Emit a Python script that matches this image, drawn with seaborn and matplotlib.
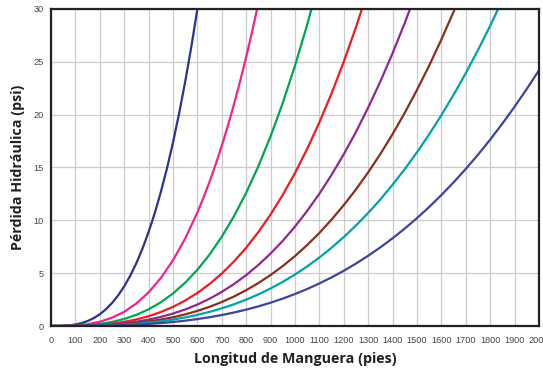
import matplotlib
matplotlib.use("Agg")
import matplotlib.pyplot as plt
import seaborn as sns
import pandas as pd

# Hose length (ft) and friction loss (psi), one pair of lists per curve
x_1 = [0, 25, 50, 75, 100, 125, 150, 175, 200, 225, 250, 275, 300, 325, 350, 375, 400,
       425, 450, 475, 500, 525, 550, 575, 600, 625]
serie_1 = [0, 0.002, 0.02, 0.059, 0.14, 0.271, 0.47, 0.744, 1.11, 1.582, 2.17, 2.889, 3.75,
           4.768, 5.95, 7.324, 8.89, 10.66, 12.66, 14.88, 17.36, 20.10, 23.11, 26.40, 30.0, 33.91]

x_2 = [0, 50, 100, 150, 200, 250, 300, 350, 400, 450, 500, 550, 600, 625, 650, 675, 700,
       725, 750, 775, 800, 825, 850, 875]
serie_2 = [0, 0.006, 0.05, 0.17, 0.40, 0.78, 1.34, 2.13, 3.18, 4.53, 6.22, 8.27, 10.74,
           12.14, 13.65, 15.29, 17.05, 18.95, 20.98, 23.14, 25.46, 27.92, 30.53, 33.31]

x_3 = list(range(0, 1101, 50))
serie_3 = [0, 0.003, 0.025, 0.083, 0.197, 0.385, 0.665, 1.056, 1.576, 2.244, 3.078, 4.097,
           5.319, 6.763, 8.447, 10.39, 12.61, 15.12, 17.95, 21.11, 24.63, 28.51, 32.78]

x_4 = list(range(0, 1301, 50))
serie_4 = [0, 0.002, 0.014, 0.049, 0.116, 0.226, 0.391, 0.621, 0.926, 1.319, 1.809, 2.408,
           3.126, 3.975, 4.965, 6.106, 7.411, 8.889, 10.55, 12.41, 14.47, 16.76, 19.27,
           22.01, 25.01, 28.27, 31.80]

x_5 = list(range(0, 1501, 50))
serie_5 = [0, 0.001, 0.009, 0.032, 0.075, 0.147, 0.254, 0.403, 0.602, 0.857, 1.176, 1.565,
           2.032, 2.583, 3.226, 3.968, 4.816, 5.777, 6.857, 8.064, 9.406, 10.89, 12.52,
           14.31, 16.25, 18.37, 20.67, 23.14, 25.81, 28.68, 31.75]

x_6 = list(range(0, 1701, 50))
serie_6 = [0, 0.001, 0.007, 0.022, 0.053, 0.103, 0.179, 0.284, 0.424, 0.603, 0.827, 1.101,
           1.429, 1.817, 2.270, 2.792, 3.388, 4.064, 4.825, 5.674, 6.618, 7.662, 8.809,
           10.07, 11.44, 12.93, 14.54, 16.28, 18.16, 20.18, 22.34, 24.64, 27.11, 29.73, 32.52]

x_7 = list(range(0, 1901, 50))
serie_7 = [0, 0.001, 0.005, 0.016, 0.039, 0.076, 0.132, 0.209, 0.312, 0.444, 0.609, 0.810,
           1.052, 1.338, 1.671, 2.055, 2.494, 2.991, 3.551, 4.176, 4.871, 5.639, 6.483,
           7.408, 8.417, 9.513, 10.70, 11.98, 13.37, 14.85, 16.44, 18.14, 19.95, 21.88,
           23.93, 26.11, 28.41, 30.84, 33.41]

x_8 = list(range(0, 2001, 50))
serie_8 = [0, 0.0004, 0.003, 0.010, 0.024, 0.047, 0.082, 0.130, 0.194, 0.276, 0.378, 0.503,
           0.653, 0.831, 1.038, 1.276, 1.549, 1.858, 2.205, 2.594, 3.025, 3.502, 4.026,
           4.601, 5.227, 5.908, 6.646, 7.443, 8.301, 9.223, 10.21, 11.26, 12.39, 13.59,
           14.86, 16.21, 17.64, 19.15, 20.75, 22.43, 24.20]

xs = [x_1, x_2, x_3, x_4, x_5, x_6, x_7, x_8]
series = [serie_1, serie_2, serie_3, serie_4, serie_5, serie_6, serie_7, serie_8]
colores = ["#2E3192", "#EC268F", "#00A651", "#ED1C24", "#92278F", "#8B2F1C", "#00A3A8", "#3B449E"]

x_ticks = list(range(0, 2001, 100))
y_ticks = [0, 5, 10, 15, 20, 25, 30]

sns.set_style("white")
plt.rcParams['font.family'] = ['Liberation Sans', 'DejaVu Sans']

fig = plt.figure(figsize=(5.43, 3.73), dpi=100)
ax = fig.add_axes([0.0939, 0.126, 0.8987, 0.850])

for xv, vals, col in zip(xs, series, colores):
    df = pd.DataFrame({"x": xv, "y": vals})
    sns.lineplot(data=df, x="x", y="y", color=col, linewidth=1.6, ax=ax, sort=False)

ax.set_xlim(0, 2000)
ax.set_ylim(0, 30)
ax.set_xticks(x_ticks)
ax.set_yticks(y_ticks)
ax.set_xticklabels([str(t) for t in x_ticks], fontsize=6.6, color="#444444")
ax.set_yticklabels([str(t) for t in y_ticks], fontsize=6.6, color="#444444")
ax.grid(True, color="#CCCCCC", linewidth=0.9)
ax.set_axisbelow(True)
for s in ax.spines.values():
    s.set_color("#222222")
    s.set_linewidth(1.6)
    s.set_visible(True)
ax.tick_params(axis="both", length=3, width=0.8, color="#999999", pad=2)
ax.tick_params(axis="x", pad=4)

lab_font = dict(family=['Open Sans', 'DejaVu Sans'], fontsize=10.3, fontweight='bold', color="#231F20")
ax.set_xlabel("Longitud de Manguera (pies)", labelpad=5, **lab_font)
ax.set_ylabel("Pérdida Hidráulica (psi)", labelpad=6, **lab_font)

fig.savefig("out.png", dpi=100)
